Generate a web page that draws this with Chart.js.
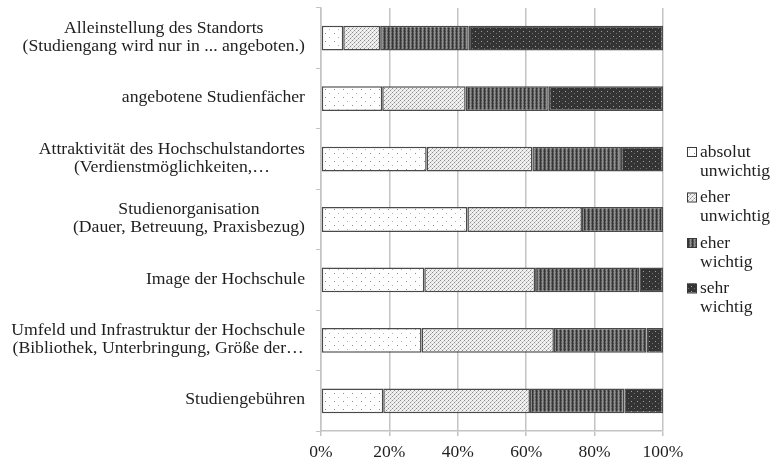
<!DOCTYPE html>
<html>
<head>
<meta charset="utf-8">
<script src="https://cdn.jsdelivr.net/npm/chart.js@4"></script>
<style>
  html, body { margin: 0; padding: 0; background: #ffffff; }
  #wrap { width: 773px; height: 458px; }
</style>
</head>
<body>
<div id="wrap"><canvas id="chart" width="773" height="458"></canvas></div>
<script>
// Categories (multi-line labels)
const categories = [
  ['Alleinstellung des Standorts', '(Studiengang wird nur in ... angeboten.)'],
  ['angebotene Studienfächer'],
  ['Attraktivität des Hochschulstandortes', '(Verdienstmöglichkeiten,…'],
  ['Studienorganisation', '(Dauer, Betreuung, Praxisbezug)'],
  ['Image der Hochschule'],
  ['Umfeld und Infrastruktur der Hochschule', '(Bibliothek, Unterbringung, Größe der…'],
  ['Studiengebühren']
];

// Series names
const seriesNames = [
  ['absolut', 'unwichtig'],
  ['eher', 'unwichtig'],
  ['eher', 'wichtig'],
  ['sehr', 'wichtig']
];

// Shares in percent per category
const absolutUnwichtig = [6.5, 17.9, 30.9, 42.8, 30.2, 29.4, 18.2];
const eherUnwichtig    = [10.8, 24.4, 30.9, 33.5, 32.4, 38.7, 42.9];
const eherWichtig      = [25.9, 24.3, 25.9, 23.7, 30.5, 27.1, 27.6];
const sehrWichtig      = [56.8, 33.4, 12.3, 0, 6.9, 4.8, 11.3];

// Axis ticks
const xTicks = [0, 20, 40, 60, 80, 100];

const SERIF = '"Liberation Serif", "Times New Roman", serif';
const TEXT_COLOR = '#1e1e1e';

// Pattern helpers
function makePattern(w, h, base, dots) {
  const c = document.createElement('canvas');
  c.width = w; c.height = h;
  const g = c.getContext('2d');
  g.fillStyle = base;
  g.fillRect(0, 0, w, h);
  dots.forEach(([x, y, col, dw, dh]) => {
    g.fillStyle = col;
    g.fillRect(x, y, dw || 1, dh || 1);
  });
  return g.createPattern(c, 'repeat');
}
const ctx = document.getElementById('chart').getContext('2d');

const patAbsolut = makePattern(9, 8, '#ffffff', [
  [1, 1, '#8a8a8a'], [5, 5, '#b0b0b0']
]);
const patEherUn = makePattern(4, 4, '#f2f2f2', [
  [0, 0, '#8a8a8a'], [2, 2, '#8a8a8a'], [1, 3, '#c0c0c0'], [3, 1, '#c0c0c0'],
  [1, 1, '#dedede'], [3, 3, '#dedede']
]);
const patEherW = makePattern(4, 3, '#626262', [
  [0, 0, '#353535', 1, 3], [2, 0, '#909090', 1, 3], [1, 1, '#4a4a4a'], [3, 2, '#7a7a7a']
]);
const patSehr = makePattern(6, 5, '#343434', [
  [1, 1, '#a0a0a0'], [4, 3, '#707070']
]);
const patterns = [patAbsolut, patEherUn, patEherW, patSehr];
const seriesData = [absolutUnwichtig, eherUnwichtig, eherWichtig, sehrWichtig];

const datasets = seriesData.map((d, i) => ({
  label: seriesNames[i].join(' '),
  data: d,
  backgroundColor: patterns[i],
  borderColor: '#4a4a4a',
  borderWidth: 1.5,
  borderSkipped: false,
  categoryPercentage: 1.0,
  barPercentage: 0.41
}));

// Centered multi-line category labels, right-aligned as a block
const categoryLabels = {
  id: 'categoryLabels',
  afterDraw(chart) {
    const y = chart.scales.y;
    const c = chart.ctx;
    c.save();
    c.font = '17.7px ' + SERIF;
    c.fillStyle = TEXT_COLOR;
    c.textAlign = 'center';
    c.textBaseline = 'middle';
    const rightEdge = y.right - 16;
    const lineH = 18;
    categories.forEach((lines, i) => {
      const cy = y.getPixelForValue(i);
      const w = Math.max(...lines.map(l => c.measureText(l).width));
      const cx = rightEdge - w / 2;
      const y0 = cy - (lines.length - 1) * lineH / 2 - 1;
      lines.forEach((l, k) => c.fillText(l, cx, y0 + k * lineH));
    });
    c.restore();
  }
};

// Legend on the right with two-line entries
const sideLegend = {
  id: 'sideLegend',
  afterDraw(chart) {
    const a = chart.chartArea;
    const c = chart.ctx;
    c.save();
    c.font = '17.5px ' + SERIF;
    c.fillStyle = TEXT_COLOR;
    c.textAlign = 'left';
    c.textBaseline = 'middle';
    const boxX = a.right + 24;
    const textX = a.right + 37;
    const startY = a.top + 144;
    const itemGap = 45.5;
    const lineH = 19;
    seriesNames.forEach((lines, i) => {
      const iy = startY + i * itemGap;
      c.fillStyle = patterns[i];
      c.fillRect(boxX, iy - 5, 9, 9);
      c.strokeStyle = '#3a3a3a';
      c.lineWidth = 1;
      c.strokeRect(boxX + 0.5, iy - 4.5, 9, 9);
      c.fillStyle = TEXT_COLOR;
      lines.forEach((l, k) => c.fillText(l, textX, iy + k * lineH));
    });
    c.restore();
  }
};

new Chart(ctx, {
  type: 'bar',
  data: { labels: categories.map(l => l.join(' ')), datasets },
  options: {
    indexAxis: 'y',
    responsive: false,
    animation: false,
    devicePixelRatio: 1,
    layout: { padding: { top: 8, right: 110, bottom: 0, left: 0 } },
    plugins: {
      legend: { display: false },
      tooltip: { enabled: false }
    },
    scales: {
      x: {
        stacked: true,
        min: 0,
        max: 100,
        afterBuildTicks(scale) { scale.ticks = xTicks.map(v => ({ value: v })); },
        afterFit(scale) { scale.height = 27; },
        grid: { color: '#c4c4c4', lineWidth: 1.5, tickLength: 5, drawTicks: true },
        border: { color: '#c4c4c4', width: 1.5 },
        ticks: {
          color: TEXT_COLOR,
          font: { family: SERIF, size: 17.5 },
          padding: 6,
          callback: v => v + '%'
        }
      },
      y: {
        stacked: true,
        afterFit(scale) { scale.width = 321; },
        grid: { display: true, drawOnChartArea: false, offset: true, color: '#c4c4c4', lineWidth: 1, tickLength: 5 },
        border: { color: '#c4c4c4', width: 1.5 },
        ticks: { display: false }
      }
    }
  },
  plugins: [categoryLabels, sideLegend]
});
</script>
</body>
</html>
